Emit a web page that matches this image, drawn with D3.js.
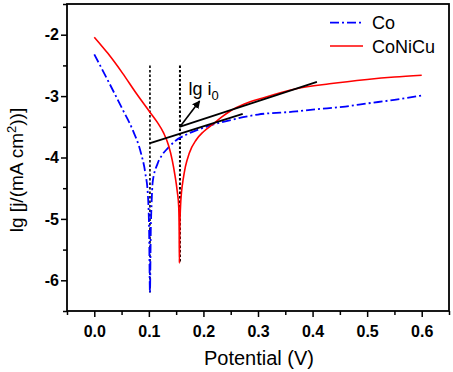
<!DOCTYPE html>
<html><head><meta charset="utf-8">
<script src="https://cdn.jsdelivr.net/npm/d3@7"></script>
<style>body{margin:0;background:#fff}svg{display:block}text{font-family:"Liberation Sans",Arial,sans-serif}</style>
</head><body>
<svg id="c" width="453" height="372"></svg>
<script>
const coData = [[0,-2.32],[0.0275,-2.79],[0.052,-3.22],[0.0703,-3.55],[0.0856,-3.93],[0.0936,-4.26],[0.098,-4.58],[0.1005,-5.2],[0.102,-6.2],[0.1035,-5.2],[0.105,-4.75],[0.107,-4.4],[0.116,-4.1],[0.125,-3.95],[0.1345,-3.85],[0.15,-3.72],[0.168,-3.63],[0.205,-3.5],[0.25,-3.39],[0.3,-3.3],[0.37,-3.25],[0.4,-3.22],[0.46,-3.17],[0.5,-3.12],[0.55,-3.06],[0.6,-2.99]];
const coniCuData = [[0,-2.04],[0.0245,-2.3],[0.052,-2.63],[0.0765,-2.95],[0.101,-3.25],[0.115,-3.42],[0.127,-3.6],[0.136,-3.8],[0.143,-4.05],[0.148,-4.3],[0.152,-4.55],[0.1547,-4.8],[0.1556,-5.2],[0.156,-5.72],[0.1566,-5.2],[0.158,-4.8],[0.16,-4.55],[0.163,-4.35],[0.167,-4.15],[0.174,-3.93],[0.187,-3.71],[0.2,-3.58],[0.217,-3.46],[0.235,-3.33],[0.248,-3.25],[0.275,-3.13],[0.309,-3.03],[0.37,-2.88],[0.431,-2.8],[0.5,-2.73],[0.55,-2.69],[0.6,-2.66]];
const vLines = [[[0.102,-2.5],[0.102,-6.2]],[[0.157,-2.5],[0.157,-5.72]]];
const tafelLines = [[[0.101,-3.77],[0.272,-3.29]],[[0.156,-3.5],[0.408,-2.77]]];
const arrowLine = [[0.157,-3.5],[0.193,-3.08]];
const labelPos = [0.1725,-2.98];
const xTicks = [0.0,0.1,0.2,0.3,0.4,0.5,0.6];
const xMinor = [-0.05,0.05,0.15,0.25,0.35,0.45,0.55,0.65];
const yTicks = [-2,-3,-4,-5,-6];
const yMinor = [-1.5,-2.5,-3.5,-4.5,-5.5,-6.5];
const seriesNames = ["Co","CoNiCu"];

const svg = d3.select("#c");
const L=67,T=4,R=449,B=311;
const x = d3.scaleLinear().domain([-0.05,0.65]).range([L,R]);
const y = d3.scaleLinear().domain([-6.5,-1.5]).range([B,T]);

const line = d3.line().x(d=>x(d[0])).y(d=>y(d[1])).curve(d3.curveMonotoneX);
const sline = d3.line().x(d=>x(d[0])).y(d=>y(d[1]));

vLines.forEach((v,i)=>svg.append("path").attr("d",sline(v)).attr("stroke","#000").attr("stroke-width",i?2:1.6).attr("stroke-dasharray","2.5,2").attr("fill","none"));

svg.append("path").attr("d",line(coData)).attr("fill","none").attr("stroke","#0000ff").attr("stroke-width",1.8).attr("stroke-dasharray","9,3,2,3");
svg.append("path").attr("d",line(coniCuData)).attr("fill","none").attr("stroke","#ff0000").attr("stroke-width",1.6);

tafelLines.forEach(t=>svg.append("path").attr("d",sline(t)).attr("stroke","#000").attr("stroke-width",1.8).attr("fill","none"));

svg.append("defs").append("marker").attr("id","ah").attr("viewBox","0 0 10 10").attr("refX",9).attr("refY",5)
  .attr("markerWidth",8).attr("markerHeight",8).attr("markerUnits","userSpaceOnUse").attr("orient","auto")
  .append("path").attr("d","M0,0L10,5L0,10z").attr("fill","#000");
svg.append("path").attr("d",sline(arrowLine)).attr("stroke","#000").attr("stroke-width",1.6).attr("marker-end","url(#ah)");

const lab = svg.append("text").attr("x",x(labelPos[0])).attr("y",y(labelPos[1])).attr("font-size",18);
lab.append("tspan").text("lg i");
lab.append("tspan").attr("dy",5).attr("font-size",13).text("0");

svg.append("rect").attr("x",L).attr("y",T).attr("width",R-L).attr("height",B-T).attr("fill","none").attr("stroke","#000").attr("stroke-width",1.8);

const fmtY = d=>String(d);
const gx = svg.append("g").attr("transform",`translate(0,${B})`);
const gxMaj = gx.append("g").call(d3.axisBottom(x).tickValues(xTicks).tickSize(6).tickFormat(d3.format(".1f")));
gx.append("g").call(d3.axisBottom(x).tickValues(xMinor).tickSize(4).tickFormat(""));
const gy = svg.append("g").attr("transform",`translate(${L},0)`);
const gyMaj = gy.append("g").call(d3.axisLeft(y).tickValues(yTicks).tickSize(6).tickFormat(fmtY));
gy.append("g").call(d3.axisLeft(y).tickValues(yMinor).tickSize(4).tickFormat(""));
svg.selectAll(".domain").remove();
svg.selectAll(".tick line").attr("stroke","#000").attr("stroke-width",1.5);
[gxMaj,gyMaj].forEach(g=>g.selectAll(".tick text").attr("font-family","Liberation Sans, Arial").attr("font-weight","bold").attr("font-size",16).attr("fill","#000"));
gxMaj.selectAll(".tick text").attr("dy","1.05em");
gyMaj.selectAll(".tick text").attr("x",-8);

svg.append("text").attr("x",(L+R)/2+1).attr("y",365).attr("text-anchor","middle").attr("font-size",20).text("Potential (V)");
const yt = svg.append("text").attr("transform","translate(23,170) rotate(-90)").attr("text-anchor","middle").attr("font-size",19);
yt.append("tspan").text("lg [j/(mA cm");
yt.append("tspan").attr("dy",-7).attr("font-size",13).text("2");
yt.append("tspan").attr("dy",7).text("))]");

const leg = [{n:seriesNames[0],c:"#0000ff",d:"9,3,2,3",yy:22.7},{n:seriesNames[1],c:"#ff0000",d:null,yy:46}];
leg.forEach(l=>{
  svg.append("line").attr("x1",330).attr("x2",363).attr("y1",l.yy).attr("y2",l.yy).attr("stroke",l.c).attr("stroke-width",l.d?1.8:1.6).attr("stroke-dasharray",l.d);
  svg.append("text").attr("x",372).attr("y",l.yy+6.5).attr("font-size",18).text(l.n);
});
</script>
</body></html>
